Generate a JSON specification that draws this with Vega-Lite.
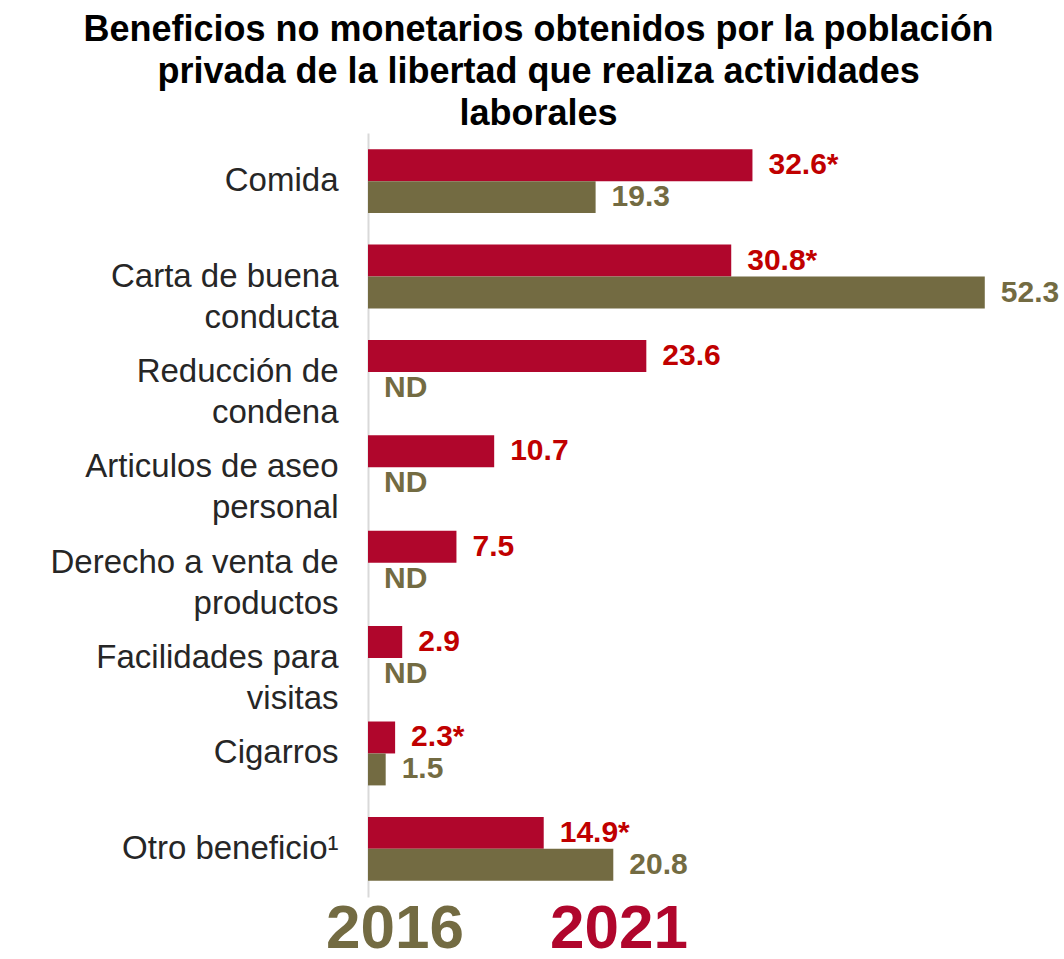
{
  "$schema": "https://vega.github.io/schema/vega-lite/v6.json",
  "width": 684,
  "height": 764,
  "padding": {"left": 49, "top": 12, "right": 2, "bottom": 0},
  "background": "white",
  "title": {
    "text": ["Beneficios no monetarios obtenidos por la población", "privada de la libertad que realiza actividades", "laborales"],
    "font": "Liberation Sans",
    "fontSize": 36,
    "fontWeight": "bold",
    "color": "#000000",
    "lineHeight": 42,
    "anchor": "middle",
    "frame": "bounds",
    "dx": -16,
    "offset": 0
  },
  "config": {"view": {"stroke": null}},
  "data": {
    "values": [
      {"cat": "Comida", "year": "2021", "value": 32.6, "label": "32.6*"},
      {"cat": "Comida", "year": "2016", "value": 19.3, "label": "19.3"},
      {"cat": "Carta de buena|conducta", "year": "2021", "value": 30.8, "label": "30.8*"},
      {"cat": "Carta de buena|conducta", "year": "2016", "value": 52.3, "label": "52.3"},
      {"cat": "Reducción de|condena", "year": "2021", "value": 23.6, "label": "23.6"},
      {"cat": "Reducción de|condena", "year": "2016", "value": null, "label": "ND"},
      {"cat": "Articulos de aseo|personal", "year": "2021", "value": 10.7, "label": "10.7"},
      {"cat": "Articulos de aseo|personal", "year": "2016", "value": null, "label": "ND"},
      {"cat": "Derecho a venta de|productos", "year": "2021", "value": 7.5, "label": "7.5"},
      {"cat": "Derecho a venta de|productos", "year": "2016", "value": null, "label": "ND"},
      {"cat": "Facilidades para|visitas", "year": "2021", "value": 2.9, "label": "2.9"},
      {"cat": "Facilidades para|visitas", "year": "2016", "value": null, "label": "ND"},
      {"cat": "Cigarros", "year": "2021", "value": 2.3, "label": "2.3*"},
      {"cat": "Cigarros", "year": "2016", "value": 1.5, "label": "1.5"},
      {"cat": "Otro beneficio¹", "year": "2021", "value": 14.9, "label": "14.9*"},
      {"cat": "Otro beneficio¹", "year": "2016", "value": 20.8, "label": "20.8"}
    ]
  },
  "transform": [{"calculate": "datum.value == null ? 0 : datum.value", "as": "pos"}],
  "encoding": {
    "y": {
      "field": "cat",
      "type": "nominal",
      "sort": null,
      "title": null,
      "scale": {"paddingInner": 0.33, "paddingOuter": 0.17},
      "axis": {
        "labelExpr": "split(datum.label, '|')",
        "labelFont": "Liberation Sans",
        "labelFontSize": 33,
        "labelColor": "#262626",
        "labelLineHeight": 41,
        "labelPadding": 30,
        "labelLimit": 400,
        "ticks": false,
        "domainColor": "#d9d9d9",
        "domainWidth": 2,
        "grid": false
      }
    },
    "yOffset": {"field": "year", "type": "nominal", "sort": ["2021", "2016"]},
    "x": {"field": "pos", "type": "quantitative", "scale": {"domain": [0, 58], "nice": false}, "axis": null}
  },
  "layer": [
    {
      "mark": {"type": "bar"},
      "encoding": {
        "x": {"field": "value", "type": "quantitative"},
        "color": {
          "field": "year",
          "type": "nominal",
          "scale": {"domain": ["2016", "2021"], "range": ["#736b42", "#b0062c"]},
          "legend": {
            "title": null,
            "orient": "none",
            "legendX": -108,
            "legendY": 765,
            "direction": "horizontal",
            "symbolSize": 0,
            "symbolStrokeWidth": 0,
            "labelFont": "Liberation Sans",
            "labelFontSize": 62,
            "labelFontWeight": "bold",
            "columnPadding": 20,
            "encode": {
              "labels": {"update": {"fill": {"signal": "datum.value == '2016' ? '#736b42' : '#b0062c'"}}}
            }
          }
        }
      }
    },
    {
      "transform": [{"filter": "datum.year == '2021'"}],
      "mark": {"type": "text", "align": "left", "baseline": "middle", "dx": 16, "font": "Liberation Sans", "fontSize": 30, "fontWeight": "bold", "color": "#c00000"},
      "encoding": {"text": {"field": "label"}}
    },
    {
      "transform": [{"filter": "datum.year == '2016'"}],
      "mark": {"type": "text", "align": "left", "baseline": "middle", "dx": 16, "font": "Liberation Sans", "fontSize": 30, "fontWeight": "bold", "color": "#736b42"},
      "encoding": {"text": {"field": "label"}}
    }
  ]
}
